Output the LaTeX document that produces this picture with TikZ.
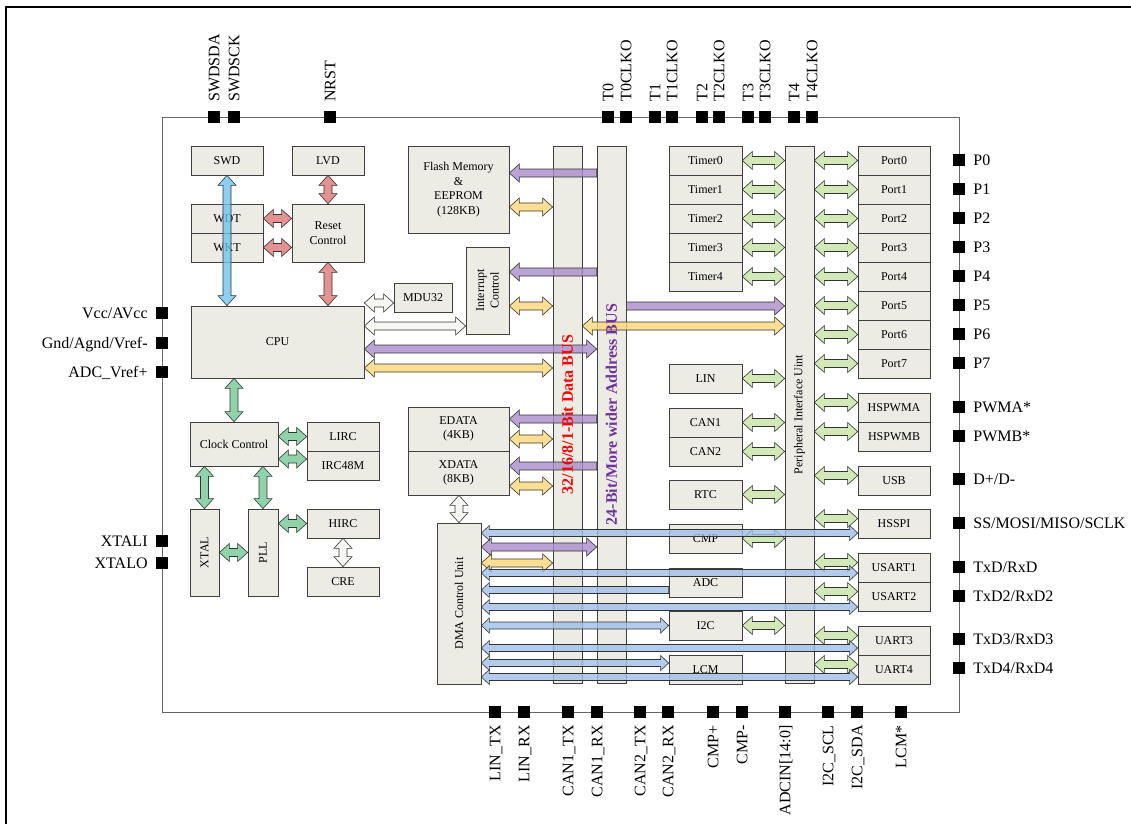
\documentclass[tikz,border=0pt]{standalone}
\usepackage{fontspec}
\setmainfont{Liberation Serif}
\usetikzlibrary{calc}
\definecolor{boxfill}{RGB}{236,236,228}
\definecolor{cRed}{RGB}{221,117,117}
\definecolor{cSky}{RGB}{110,195,240}
\definecolor{cMint}{RGB}{115,200,150}
\definecolor{cLgreen}{RGB}{196,228,164}
\definecolor{cPurple}{RGB}{170,140,204}
\definecolor{cYellow}{RGB}{252,215,120}
\definecolor{cDma}{RGB}{160,190,232}
\definecolor{cWhite}{RGB}{244,244,240}
\definecolor{txtPurple}{RGB}{112,48,160}
\tikzset{
  blk/.style={draw=black!75, fill=boxfill, line width=0.7pt, inner sep=0pt},
  pinsq/.style={fill=black, minimum size=12pt, inner sep=0pt},
  pinlbl/.style={font=\fontsize{16}{16}\selectfont, inner sep=1pt, text height=10.6pt, text depth=0pt},
  arr/.style={draw=black!80, line width=0.6pt, fill opacity=0.8, line join=miter},
  arred/.style={arr, fill=cRed},
  arsky/.style={arr, fill=cSky},
  armint/.style={arr, fill=cMint},
  argreen/.style={arr, fill=cLgreen},
  arpurple/.style={arr, fill=cPurple},
  aryellow/.style={arr, fill=cYellow},
  ardma/.style={arr, fill=cDma},
  arwhite/.style={arr, fill=cWhite},
}
\newcommand\ahl{10pt}
\newcommand\ahw{9pt}
\newcommand\asw{4pt}
\newcommand\dba[3][]{%
  \coordinate (tA) at (#2); \coordinate (tB) at (#3);
  \draw[#1] (tA) -- ($(tA)!\ahl!(tB)!\ahw!90:(tB)$) -- ($(tA)!\ahl!(tB)!\asw!90:(tB)$)
    -- ($(tB)!\ahl!(tA)!\asw!-90:(tA)$) -- ($(tB)!\ahl!(tA)!\ahw!-90:(tA)$) -- (tB)
    -- ($(tB)!\ahl!(tA)!\ahw!90:(tA)$) -- ($(tB)!\ahl!(tA)!\asw!90:(tA)$)
    -- ($(tA)!\ahl!(tB)!\asw!-90:(tB)$) -- ($(tA)!\ahl!(tB)!\ahw!-90:(tB)$) -- cycle;}
\newcommand\sga[3][]{%
  \coordinate (tA) at (#2); \coordinate (tB) at (#3);
  \draw[#1] ($(tA)!\asw!90:(tB)$) -- ($(tB)!\ahl!(tA)!\asw!-90:(tA)$)
    -- ($(tB)!\ahl!(tA)!\ahw!-90:(tA)$) -- (tB) -- ($(tB)!\ahl!(tA)!\ahw!90:(tA)$)
    -- ($(tB)!\ahl!(tA)!\asw!90:(tA)$) -- ($(tA)!\asw!-90:(tB)$) -- cycle;}
\newcommand\bx[7][]{\node[blk,#1,minimum width={#5pt-#3pt},minimum height={#6pt-#4pt}] (#2) at ({(#3+#5)/2},{(#4+#6)/2}) {#7};}
\begin{document}
\begin{tikzpicture}[x=1pt,y=-1pt,font=\fontsize{12}{14.5}\selectfont]
\useasboundingbox (0,0) rectangle (1131,824);
\draw[line width=1.6pt] (6,824) -- (6,7) -- (1131,7);
\draw[black!60, line width=0.9pt] (162,117) rectangle (959,712);

% pins
\foreach \xa/\nm/\tx in {214/swdsda/SWDSDA,234/swdsck/SWDSCK,330/nrst/NRST,608/tz/T0,626/tzc/T0CLKO,655/to/T1,672/toc/T1CLKO,702/tt/T2,719/ttc/T2CLKO,748/th/T3,765/thc/T3CLKO,794/tf/T4,812/tfc/T4CLKO}{
  \node[pinsq] (\nm) at (\xa,117) {};
  \node[pinlbl, rotate=90, anchor=west] at ([yshift=8pt]\nm.north) {\tx};}
\foreach \xa/\nm/\tx in {495/lintx/{LIN\_TX},524/linrx/{LIN\_RX},568/cantx/{CAN1\_TX},597/canrx/{CAN1\_RX},640/cbntx/{CAN2\_TX},668/cbnrx/{CAN2\_RX},713/cmpp/{CMP+},742/cmpm/{CMP-},785/adcin/{ADCIN[14:0]},828/scl/{I2C\_SCL},857/sda/{I2C\_SDA},901/lcmp/{LCM*}}{
  \node[pinsq] (\nm) at (\xa,712) {};
  \node[pinlbl, rotate=90, anchor=east] at ([yshift=-6pt]\nm.south) {\tx};}
\foreach \ya/\nm/\tx in {313/vcc/{Vcc/AVcc},343/gnd/{Gnd/Agnd/Vref-},372/vref/{ADC\_Vref+},541/xti/{XTALI},563/xto/{XTALO}}{
  \node[pinsq] (\nm) at (162,\ya) {};
  \node[pinlbl, anchor=east] at ([xshift=-7pt]\nm.west) {\tx};}
\foreach \ya/\nm/\tx in {160/pp0/{P0},189/pp1/{P1},218/pp2/{P2},247/pp3/{P3},276/pp4/{P4},305/pp5/{P5},334/pp6/{P6},363/pp7/{P7},407/pwa/{PWMA*},436/pwb/{PWMB*},479/usbp/{D+/D-},523/spip/{SS/MOSI/MISO/SCLK},567/u1p/{TxD/RxD},596/u2p/{TxD2/RxD2},639/u3p/{TxD3/RxD3},668/u4p/{TxD4/RxD4}}{
  \node[pinsq] (\nm) at (959,\ya) {};
  \node[pinlbl, anchor=west] at ([xshift=7pt]\nm.east) {\tx};}

% boxes
\bx{swd}{191}{146}{263}{175}{SWD}
\bx{lvd}{292}{146}{364}{175}{LVD}
\bx{wdt}{191}{204}{263}{233}{WDT}
\bx{wkt}{191}{233}{263}{262}{WKT}
\bx[align=center]{rst}{292}{204}{364}{262}{Reset\\Control}
\bx{cpu}{191}{306}{364}{378}{CPU}
\bx{mdu}{394}{283}{452}{312}{MDU32}
\bx[align=center]{flash}{408}{146}{509}{233}{Flash Memory\\\&\\EEPROM\\(128KB)}
\bx{intc}{466}{247}{509}{334}{}
\bx{dbus}{553}{146}{582}{683}{}
\bx{abus}{597}{146}{626}{683}{}
\bx{tm0}{669}{146}{742}{175}{Timer0}
\bx{tm1}{669}{175}{742}{204}{Timer1}
\bx{tm2}{669}{204}{742}{233}{Timer2}
\bx{tm3}{669}{233}{742}{262}{Timer3}
\bx{tm4}{669}{262}{742}{291}{Timer4}
\bx{piu}{785}{146}{814}{683}{}
\bx{po0}{858}{146}{930}{175}{Port0}
\bx{po1}{858}{175}{930}{204}{Port1}
\bx{po2}{858}{204}{930}{233}{Port2}
\bx{po3}{858}{233}{930}{262}{Port3}
\bx{po4}{858}{262}{930}{291}{Port4}
\bx{po5}{858}{291}{930}{320}{Port5}
\bx{po6}{858}{320}{930}{349}{Port6}
\bx{po7}{858}{349}{930}{378}{Port7}
\bx{lin}{669}{364}{742}{393}{LIN}
\bx{can1}{669}{408}{742}{437}{CAN1}
\bx{can2}{669}{437}{742}{466}{CAN2}
\bx{rtc}{669}{480}{742}{509}{RTC}
\bx[align=center]{edata}{408}{407}{509}{451}{EDATA\\(4KB)}
\bx[align=center]{xdata}{408}{451}{509}{495}{XDATA\\(8KB)}
\bx{dma}{437}{523}{481}{684}{}
\bx{cmp}{669}{524}{742}{553}{CMP}
\bx{adc}{669}{568}{742}{597}{ADC}
\bx{i2c}{669}{611}{742}{640}{I2C}
\bx{lcm}{669}{655}{742}{684}{LCM}
\bx{hspwma}{858}{393}{930}{422}{HSPWMA}
\bx{hspwmb}{858}{422}{930}{451}{HSPWMB}
\bx{usb}{858}{466}{930}{495}{USB}
\bx{hsspi}{858}{509}{930}{538}{HSSPI}
\bx{usart1}{858}{553}{930}{582}{USART1}
\bx{usart2}{858}{582}{930}{611}{USART2}
\bx{uart3}{858}{626}{930}{655}{UART3}
\bx{uart4}{858}{655}{930}{684}{UART4}
\bx{clk}{190}{422}{278}{466}{Clock Control}
\bx{lirc}{307}{422}{379}{451}{LIRC}
\bx{irc}{307}{451}{379}{480}{IRC48M}
\bx{xtal}{190}{509}{219}{596}{}
\bx{pll}{248}{509}{278}{596}{}
\bx{hirc}{307}{509}{379}{538}{HIRC}
\bx{cre}{307}{567}{379}{596}{CRE}

\node[rotate=90, align=center] at (intc.center) {Interrupt\\Control};
\node[rotate=90] at (xtal.center) {XTAL};
\node[rotate=90] at (pll.center) {PLL};
\node[rotate=90] at (dma.center) {DMA Control Unit};
\node[rotate=90] at (piu.center) {Peripheral Interface Uint};

% arrows: left part
\dba[arsky]{swd.south}{swd.south |- cpu.north}
\dba[arred]{lvd.south}{rst.north}
\dba[arred]{wdt.east}{rst.west |- wdt.east}
\dba[arred]{wkt.east}{rst.west |- wkt.east}
\dba[arred]{rst.south}{rst.south |- cpu.north}
\coordinate (m1) at ([yshift=-5.5pt]mdu.west);
\dba[arwhite]{cpu.east |- m1}{m1}
\coordinate (i1) at ([yshift=-35.5pt]intc.west);
\dba[arwhite]{cpu.east |- i1}{i1}
\coordinate (c1) at ([yshift=-7pt]cpu.east);
\dba[arpurple]{c1}{abus.west |- c1}
\coordinate (c2) at ([yshift=-26pt]cpu.east);
\dba[aryellow]{c2}{dbus.west |- c2}
\coordinate (f1) at ([yshift=16.5pt]flash.east);
\sga[arpurple]{abus.west |- f1}{f1}
\coordinate (f2) at ([yshift=-17.5pt]flash.east);
\dba[aryellow]{f2}{dbus.west |- f2}
\coordinate (n1) at ([yshift=18.5pt]intc.east);
\sga[arpurple]{abus.west |- n1}{n1}
\coordinate (n2) at ([yshift=-15.5pt]intc.east);
\dba[aryellow]{n2}{dbus.west |- n2}
\sga[arpurple]{abus.east |- n2}{piu.west |- n2}
\dba[aryellow]{dbus.east |- i1}{piu.west |- i1}
\coordinate (e1) at ([yshift=10pt]edata.east);
\sga[arpurple]{abus.west |- e1}{e1}
\coordinate (e2) at ([yshift=-10pt]edata.east);
\dba[aryellow]{e2}{dbus.west |- e2}
\coordinate (x1) at ([yshift=7pt]xdata.east);
\sga[arpurple]{abus.west |- x1}{x1}
\coordinate (x2) at ([yshift=-13pt]xdata.east);
\dba[aryellow]{x2}{dbus.west |- x2}
\dba[arwhite]{dma.north |- xdata.south}{dma.north}
% clock
\dba[armint]{clk.north |- cpu.south}{clk.north}
\dba[armint]{clk.east |- lirc.west}{lirc.west}
\coordinate (r1) at ([yshift=6.5pt]irc.west);
\dba[armint]{clk.east |- r1}{r1}
\dba[armint]{xtal.north |- clk.south}{xtal.north}
\dba[armint]{pll.north |- clk.south}{pll.north}
\dba[armint]{xtal.east}{pll.west}
\dba[armint]{pll.east |- hirc.west}{hirc.west}
\dba[arwhite]{hirc.south}{cre.north}
% peripherals
\foreach \q in {tm0,tm1,tm2,tm3,tm4,lin,can1,can2,rtc,cmp,i2c}{\dba[argreen]{\q.east}{piu.west |- \q.east}}
\foreach \q in {po0,po1,po2,po3,po4,po5,po6,po7}{\dba[argreen]{piu.east |- \q.west}{\q.west}}
\foreach \q in {hspwma,hspwmb,usb,hsspi,usart1,usart2,uart3,uart4}{
  \coordinate (hh) at ([yshift=5pt]\q.west);
  \dba[argreen]{piu.east |- hh}{hh}}
% DMA
\coordinate (d2) at ([yshift=56.5pt]dma.east);
\dba[arpurple]{d2}{abus.west |- d2}
\coordinate (d3) at ([yshift=40.5pt]dma.east);
\dba[aryellow]{d3}{dbus.west |- d3}
\renewcommand\ahl{8pt}\renewcommand\ahw{7.5pt}\renewcommand\asw{3.5pt}
\coordinate (d1) at ([yshift=-9.5pt]hsspi.west);
\dba[ardma]{dma.east |- d1}{d1}
\coordinate (d4) at ([yshift=-5.5pt]usart1.west);
\dba[ardma]{dma.east |- d4}{d4}
\coordinate (d5) at ([yshift=-7.5pt]adc.west);
\sga[ardma]{d5}{dma.east |- d5}
\coordinate (d6) at ([yshift=-10.5pt]usart2.west);
\dba[ardma]{dma.east |- d6}{d6}
\dba[ardma]{dma.east |- i2c.west}{i2c.west}
\coordinate (d8) at ([yshift=-7.5pt]uart3.west);
\dba[ardma]{dma.east |- d8}{d8}
\coordinate (d9) at ([yshift=6.5pt]lcm.west);
\dba[ardma]{dma.east |- d9}{d9}
\coordinate (d10) at ([yshift=-7.5pt]uart4.west);
\dba[ardma]{dma.east |- d10}{d10}

% bus labels
\node[rotate=90, text=red, font=\bfseries\fontsize{16}{16}\selectfont] at (dbus.center) {32/16/8/1-Bit Data BUS};
\node[rotate=90, text=txtPurple, font=\bfseries\fontsize{16}{16}\selectfont] at (abus.center) {24-Bit/More wider Address BUS};
\end{tikzpicture}
\end{document}
